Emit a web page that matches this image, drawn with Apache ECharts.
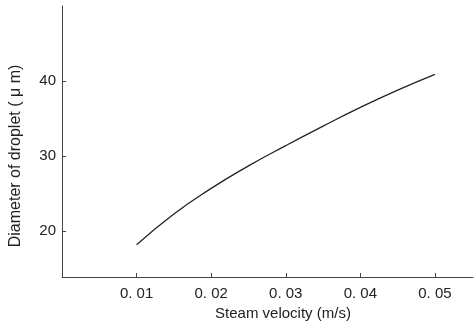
<!DOCTYPE html>
<html>
<head>
<meta charset="utf-8">
<script src="https://cdn.jsdelivr.net/npm/echarts@6/dist/echarts.min.js"></script>
<style>
  html, body { margin: 0; padding: 0; background: #fff; }
  #chart { width: 474px; height: 331px; }
</style>
</head>
<body>
<div id="chart"></div>
<script>
// 数据
var velocity = [0.010, 0.015, 0.020, 0.025, 0.030, 0.035, 0.040, 0.045, 0.050];
var diameter = [18.2, 22.3, 25.7, 28.7, 31.4, 34.0, 36.5, 38.8, 40.9];
var xTicks = [0.01, 0.02, 0.03, 0.04, 0.05];
var yTicks = [20, 30, 40];

var chart = echarts.init(document.getElementById('chart'), null, { renderer: 'canvas' });

var points = velocity.map(function (v, i) { return [v, diameter[i]]; });

var option = {
  animation: false,
  backgroundColor: '#fff',
  textStyle: { fontFamily: 'Liberation Sans, Arial, sans-serif' },
  grid: { left: 59, right: 1, top: 6, bottom: 54 },
  xAxis: {
    type: 'value',
    min: 0,
    max: 0.0551,
    name: 'Steam velocity (m/s)',
    nameLocation: 'middle',
    nameGap: 26,
    nameTextStyle: { fontSize: 15, color: '#222', padding: [0, 0, 0, 31] },
    splitLine: { show: false },
    axisLine: { lineStyle: { color: '#444', width: 1 } },
    axisTick: { inside: true, length: 4, customValues: xTicks, lineStyle: { color: '#444' } },
    axisLabel: {
      customValues: xTicks,
      fontSize: 15,
      color: '#222',
      margin: 9,
      formatter: function (v) { return v.toFixed(2).replace('.', '. '); }
    }
  },
  yAxis: {
    type: 'value',
    min: 13.9,
    max: 50,
    name: 'Diameter of droplet ( \u03bc m)',
    nameLocation: 'middle',
    nameGap: 38,
    nameRotate: 90,
    nameTextStyle: { fontSize: 16, color: '#222', padding: [0, 29, 0, 0] },
    splitLine: { show: false },
    axisLine: { show: true, lineStyle: { color: '#444', width: 1 } },
    axisTick: { show: true, inside: true, length: 4, customValues: yTicks, lineStyle: { color: '#444' } },
    axisLabel: { customValues: yTicks, fontSize: 15, color: '#222', margin: 6 }
  },
  series: [
    {
      type: 'line',
      data: points,
      smooth: true,
      showSymbol: false,
      lineStyle: { color: '#222', width: 1.3 }
    }
  ]
};
chart.setOption(option);
</script>
</body>
</html>
